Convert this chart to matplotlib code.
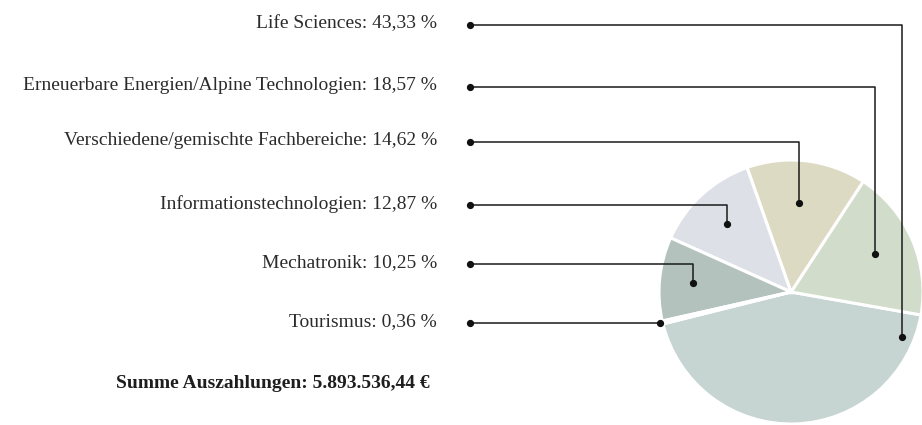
import matplotlib
matplotlib.use("Agg")
import matplotlib.pyplot as plt

# ---- data ----
categories = ["Life Sciences", "Erneuerbare Energien/Alpine Technologien",
              "Verschiedene/gemischte Fachbereiche", "Informationstechnologien",
              "Mechatronik", "Tourismus"]
shares = [43.33, 18.57, 14.62, 12.87, 10.25, 0.36]
share_labels = ["43,33 %", "18,57 %", "14,62 %", "12,87 %", "10,25 %", "0,36 %"]
total_label = "Summe Auszahlungen: 5.893.536,44 €"

# ---- styling / layout (pixel space, y from top) ----
colors = ["#c6d5d2", "#d1dccb", "#dcdac3", "#dde1e7", "#b4c2be", "#f4f6f5"]
W, H = 922, 425
label_y = [25, 86.7, 141.7, 205, 264, 323]          # leader start rows
elbow_x = [902, 874.5, 799, 727, 692.5, 660]         # vertical segment x
end_y = [336.7, 253.5, 203.3, 224.3, 282.7, 323]     # end dot y
start_x = 470
text_right = 437
pie_center = (791, 292)
pie_radius = 132

fig = plt.figure(figsize=(W / 100, H / 100), dpi=100)
ax = fig.add_axes([0, 0, 1, 1])

def fy(y):
    return H - y

ax.pie(shares, colors=colors, startangle=194, counterclock=True,
       center=(pie_center[0], fy(pie_center[1])), radius=pie_radius,
       wedgeprops=dict(edgecolor="white", linewidth=2.2))

ax.set_xlim(0, W)
ax.set_ylim(0, H)
ax.set_aspect("equal")
ax.axis("off")

line_kw = dict(color="#1a1a1a", lw=1.1, solid_capstyle="butt", zorder=5)
for cat, lab, ly, ex, ey in zip(categories, share_labels, label_y, elbow_x, end_y):
    ax.plot([start_x, ex, ex], [fy(ly), fy(ly), fy(ey)], **line_kw)
    ax.plot([start_x, ex], [fy(ly), fy(ey)], "o", color="#111111",
            markersize=4.2, zorder=6, linestyle="none")
    ax.text(text_right, fy(ly + 3.5), f"{cat}: {lab}", ha="right", va="baseline",
            fontsize=14, family="Liberation Serif", color="#2b2b2b")

ax.text(430, fy(388), total_label, ha="right", va="baseline", fontsize=14,
        family="Liberation Serif", fontweight="bold", color="#1e1e1e")

fig.savefig("out.png", dpi=100)
